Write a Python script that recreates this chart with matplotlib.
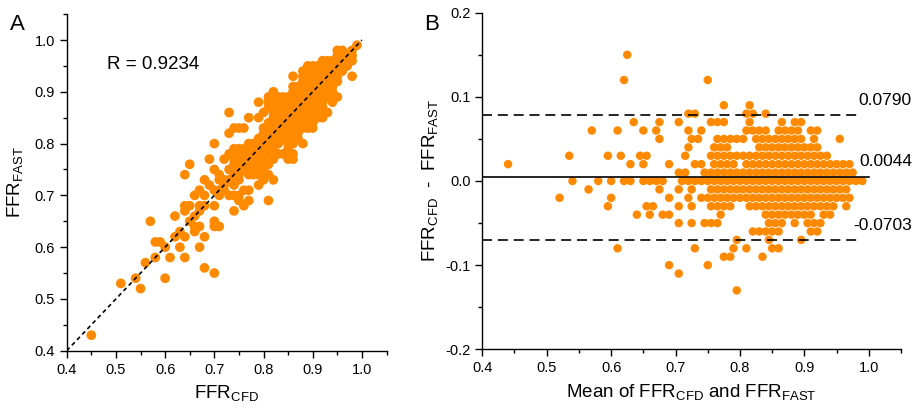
import matplotlib.pyplot as plt
from matplotlib.ticker import MultipleLocator, FormatStrFormatter
import numpy as np

plt.rcParams['font.family'] = ['Liberation Sans', 'DejaVu Sans']
plt.rcParams['mathtext.default'] = 'regular'
plt.rcParams['axes.unicode_minus'] = False

#
# Bland-Altman data: one list of means per difference level
#
row_p015 = [0.625]
row_p012 = [0.62, 0.75]
row_p009 = [0.775, 0.815]
row_p008 = [0.72, 0.73, 0.81, 0.82, 0.84]
row_p007 = [0.635, 0.675, 0.705, 0.755, 0.765, 0.775, 0.815, 0.865, 0.885, 0.895]
row_p006 = [0.57, 0.61, 0.65, 0.67, 0.72, 0.74, 0.81, 0.82, 0.83, 0.84,
            0.86, 0.87, 0.88, 0.89, 0.91, 0.92]
row_p005 = [0.675, 0.725, 0.735, 0.765, 0.775, 0.785, 0.795, 0.805, 0.825,
            0.835, 0.845, 0.855, 0.865, 0.875, 0.885, 0.895, 0.915, 0.955]
row_p004 = [0.72, 0.76, 0.77, 0.78, 0.83, 0.84, 0.85, 0.86, 0.87, 0.88,
            0.89, 0.90, 0.91, 0.92]
row_p003 = [0.535, 0.595, 0.615, 0.645, 0.655, 0.715, 0.755, 0.765, 0.775,
            0.785, 0.795, 0.805, 0.815, 0.825, 0.835, 0.845, 0.855, 0.865,
            0.875, 0.885, 0.895, 0.905, 0.915, 0.925, 0.935]
row_p002 = [0.44, 0.63, 0.65, 0.69, 0.73, 0.74, 0.76, 0.77, 0.78, 0.79,
            0.81, 0.82, 0.83, 0.84, 0.85, 0.86, 0.87, 0.88, 0.89, 0.90,
            0.91, 0.92, 0.93, 0.94, 0.95, 0.96, 0.97]
row_p001 = [0.705, 0.715, 0.745, 0.755, 0.765, 0.775, 0.785, 0.795, 0.805,
            0.815, 0.825, 0.835, 0.845, 0.855, 0.865, 0.875, 0.885, 0.895,
            0.905, 0.915, 0.925, 0.935, 0.945, 0.955, 0.965, 0.975]
row_000 = [0.54, 0.58, 0.60, 0.62, 0.63, 0.65, 0.66, 0.67, 0.68, 0.71,
           0.72, 0.73, 0.74, 0.75, 0.76, 0.77, 0.78, 0.79, 0.80, 0.81,
           0.82, 0.83, 0.84, 0.85, 0.86, 0.87, 0.88, 0.89, 0.90, 0.91,
           0.92, 0.93, 0.94, 0.95, 0.96, 0.97, 0.98, 0.99]
row_m001 = [0.565, 0.675, 0.705, 0.725, 0.755, 0.765, 0.775, 0.785, 0.795,
            0.805, 0.815, 0.825, 0.835, 0.845, 0.855, 0.865, 0.875, 0.885,
            0.895, 0.905, 0.915, 0.925, 0.935, 0.945, 0.955, 0.965]
row_m002 = [0.52, 0.60, 0.69, 0.72, 0.74, 0.75, 0.76, 0.77, 0.78, 0.79,
            0.80, 0.81, 0.82, 0.83, 0.84, 0.85, 0.86, 0.87, 0.88, 0.89,
            0.90, 0.91, 0.92, 0.93, 0.94, 0.95, 0.96, 0.97]
row_m003 = [0.595, 0.655, 0.665, 0.705, 0.725, 0.755, 0.765, 0.775, 0.785,
            0.815, 0.825, 0.835, 0.845, 0.855, 0.865, 0.875, 0.885, 0.895,
            0.905, 0.915, 0.925, 0.935, 0.945, 0.965]
row_m004 = [0.64, 0.66, 0.68, 0.69, 0.77, 0.84, 0.85, 0.86, 0.87, 0.88,
            0.89, 0.90, 0.91, 0.93, 0.94]
row_m005 = [0.705, 0.725, 0.745, 0.755, 0.765, 0.845, 0.855, 0.865, 0.885,
            0.905, 0.915, 0.925]
row_m006 = [0.82, 0.83, 0.84, 0.85, 0.86, 0.91, 0.92]
row_m007 = [0.795, 0.845, 0.895]
row_m008 = [0.61, 0.73, 0.79, 0.81, 0.85, 0.86]
row_m009 = [0.775, 0.785, 0.835]
row_m010 = [0.69, 0.75]
row_m011 = [0.705]
row_m013 = [0.795]

diff_levels = [0.15, 0.12, 0.09, 0.08, 0.07, 0.06, 0.05, 0.04, 0.03, 0.02,
               0.01, 0.00, -0.01, -0.02, -0.03, -0.04, -0.05, -0.06, -0.07,
               -0.08, -0.09, -0.10, -0.11, -0.13]
mean_rows = [row_p015, row_p012, row_p009, row_p008, row_p007, row_p006,
             row_p005, row_p004, row_p003, row_p002, row_p001, row_000,
             row_m001, row_m002, row_m003, row_m004, row_m005, row_m006,
             row_m007, row_m008, row_m009, row_m010, row_m011, row_m013]

# summary values printed on the chart
r_value = 0.9234
bias = 0.0044
loa_upper = 0.0790
loa_lower = -0.0703

# combine rows into mean / difference arrays
mean_ffr = np.concatenate([np.array(r, dtype=float) for r in mean_rows])
diff_ffr = np.concatenate([np.full(len(r), d) for r, d in zip(mean_rows, diff_levels)])

# back to the paired values for panel A
ffr_cfd = mean_ffr + diff_ffr / 2
ffr_fast = mean_ffr - diff_ffr / 2

orange = "#FF8A00"


def style_axes(ax, ymajor, yfmt):
    # only left and bottom spines, outward ticks with minor ticks in between
    ax.spines["top"].set_visible(False)
    ax.spines["right"].set_visible(False)
    for s in ("left", "bottom"):
        ax.spines[s].set_linewidth(1.0)
    ax.xaxis.set_major_locator(MultipleLocator(0.1))
    ax.xaxis.set_minor_locator(MultipleLocator(0.05))
    ax.yaxis.set_major_locator(MultipleLocator(ymajor))
    ax.yaxis.set_minor_locator(MultipleLocator(ymajor / 2))
    ax.xaxis.set_major_formatter(FormatStrFormatter("%.1f"))
    ax.yaxis.set_major_formatter(FormatStrFormatter(yfmt))
    ax.tick_params(which="major", direction="out", length=5, width=1,
                   labelsize=10.5, colors="black")
    ax.tick_params(which="minor", direction="out", length=3, width=1)


fig = plt.figure(figsize=(9.19, 4.08), dpi=100)

#
# panel A: correlation
#
ax1 = fig.add_axes([0.0726, 0.1404, 0.348, 0.825])
ax1.scatter(ffr_cfd, ffr_fast, s=7.0 ** 2, color=orange, edgecolors="none",
            zorder=2)
ax1.plot([0.4, 1.0], [0.4, 1.0], color="black", linestyle=(0, (2.5, 2)),
         linewidth=1.2, zorder=3)
ax1.set_xlim(0.4, 1.05)
ax1.set_ylim(0.4, 1.05)
style_axes(ax1, 0.1, "%.1f")
ax1.set_xlabel(r"FFR$_{CFD}$", fontsize=13.5, labelpad=5)
ax1.set_ylabel(r"FFR$_{FAST}$", fontsize=13.5, labelpad=7)
ax1.text(0.481, 0.952, "R = %.4f" % r_value, fontsize=13.5, va="center")
fig.text(0.011, 0.965, "A", fontsize=16, va="top")

#
# panel B: Bland-Altman
#
ax2 = fig.add_axes([0.5248, 0.1439, 0.4556, 0.825])
ax2.scatter(mean_ffr, diff_ffr, s=6.1 ** 2, color=orange, edgecolors="none",
            zorder=2)
ax2.plot([0.4, 0.99], [loa_upper, loa_upper], color="black",
         linestyle=(0, (6, 3.5)), linewidth=1.2, zorder=3)
ax2.plot([0.4, 0.99], [loa_lower, loa_lower], color="black",
         linestyle=(0, (6, 3.5)), linewidth=1.2, zorder=3)
ax2.plot([0.4, 1.0], [bias, bias], color="black", linewidth=1.2, zorder=3)
ax2.set_xlim(0.4, 1.05)
ax2.set_ylim(-0.2, 0.2)
style_axes(ax2, 0.1, "%.1f")
ax2.set_xlabel(r"Mean of FFR$_{CFD}$ and FFR$_{FAST}$", fontsize=13.5,
               labelpad=5)
ax2.set_ylabel(r"FFR$_{CFD}$  -  FFR$_{FAST}$", fontsize=13.5, labelpad=4)
for val, ypos in [(loa_upper, 0.096), (bias, 0.0226), (loa_lower, -0.0534)]:
    ax2.text(1.067, ypos, "%.4f" % val, fontsize=12.5, ha="right",
             va="center", clip_on=False)
fig.text(0.462, 0.965, "B", fontsize=16, va="top")

fig.savefig("out.png", dpi=100)
